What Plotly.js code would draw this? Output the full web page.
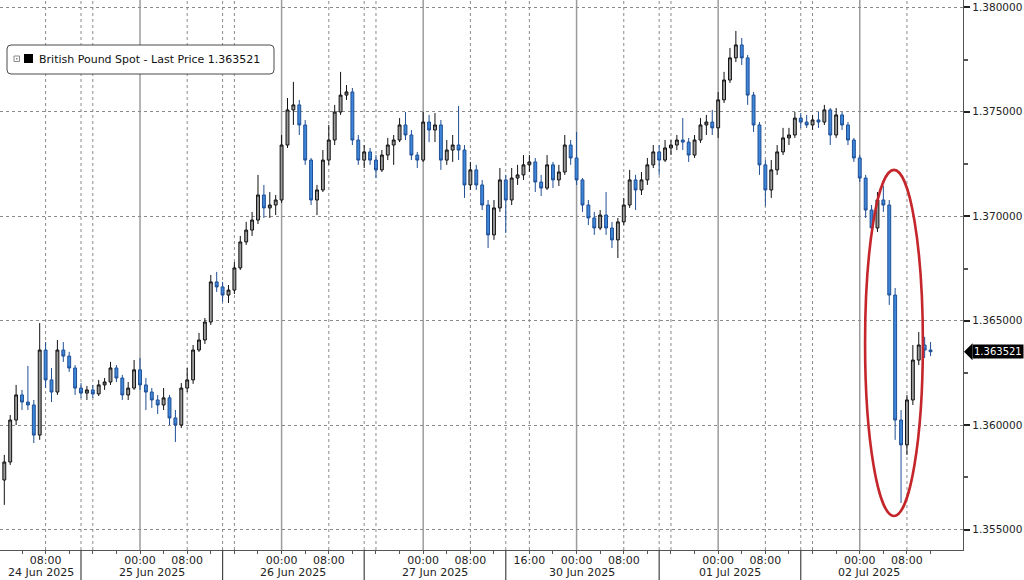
<!DOCTYPE html>
<html><head><meta charset="utf-8">
<script src="https://cdn.plot.ly/plotly-3.0.1.min.js"></script>
<style>html,body{margin:0;padding:0;background:#fff}#chart{width:1024px;height:580px}</style>
</head><body><div id="chart"></div>
<script>
const seriesName = "British Pound Spot - Last Price";
const lastPrice = 1.363521;
const firstHour = -23; // hourly candles; hour 0 = 25 Jun 00:00, weekend compressed

const openPx = [
1.35738,1.35824,1.36025,1.36145,1.36111,1.36097,1.35953,1.36360,1.36217,1.36159,
1.36360,1.36331,1.36274,1.36178,1.36154,1.36169,1.36150,1.36193,1.36207,1.36274,
1.36226,1.36145,1.36178,1.36265,1.36193,1.36159,1.36121,1.36097,1.36131,1.36035,
1.36001,1.36178,1.36217,1.36360,1.36408,1.36494,1.36686,1.36662,1.36623,1.36647,
1.36753,1.36877,1.36934,1.36982,1.37102,1.37040,1.37054,1.37078,1.37341,1.37509,
1.37533,1.37437,1.37269,1.37078,1.37126,1.37269,1.37365,1.37499,1.37580,1.37595,
1.37365,1.37269,1.37308,1.37269,1.37222,1.37293,1.37341,1.37365,1.37437,1.37389,
1.37293,1.37269,1.37451,1.37413,1.37437,1.37269,1.37317,1.37341,1.37317,1.37150,
1.37222,1.37150,1.37054,1.36911,1.37040,1.37174,1.37078,1.37183,1.37198,1.37246,
1.37260,1.37164,1.37135,1.37246,1.37174,1.37212,1.37341,1.37279,1.37174,1.37054,
1.36992,1.36944,1.37006,1.36944,1.36887,1.36973,1.37054,1.37174,1.37126,1.37174,
1.37246,1.37308,1.37269,1.37327,1.37341,1.37365,1.37355,1.37293,1.37365,1.37437,
1.37451,1.37423,1.37557,1.37652,1.37758,1.37820,1.37758,1.37580,1.37437,1.37246,
1.37126,1.37222,1.37308,1.37375,1.37389,1.37470,1.37451,1.37437,1.37461,1.37451,
1.37509,1.37389,1.37485,1.37437,1.37365,1.37279,1.37183,1.37030,1.36944,1.37078,
1.37054,1.36623,1.36025,1.35906,1.36121,1.36312,1.36384,1.36360];

const highPx = [
1.35858,1.36049,1.36193,1.36169,1.36284,1.36121,1.36489,1.36398,1.36274,1.36408,
1.36398,1.36351,1.36288,1.36202,1.36188,1.36193,1.36217,1.36226,1.36303,1.36288,
1.36241,1.36207,1.36312,1.36322,1.36226,1.36178,1.36145,1.36178,1.36145,1.36073,
1.36202,1.36274,1.36384,1.36442,1.36513,1.36719,1.36734,1.36686,1.36671,1.36781,
1.36906,1.36973,1.37021,1.37198,1.37150,1.37116,1.37102,1.37389,1.37566,1.37643,
1.37557,1.37461,1.37279,1.37150,1.37317,1.37437,1.37533,1.37691,1.37628,1.37614,
1.37389,1.37341,1.37327,1.37293,1.37317,1.37375,1.37389,1.37470,1.37499,1.37413,
1.37308,1.37499,1.37485,1.37494,1.37461,1.37365,1.37389,1.37528,1.37341,1.37260,
1.37246,1.37174,1.37078,1.37078,1.37231,1.37198,1.37231,1.37246,1.37293,1.37293,
1.37279,1.37198,1.37293,1.37260,1.37246,1.37389,1.37365,1.37403,1.37183,1.37078,
1.37021,1.37030,1.37116,1.36973,1.36992,1.37088,1.37222,1.37198,1.37212,1.37279,
1.37341,1.37341,1.37365,1.37365,1.37389,1.37470,1.37375,1.37389,1.37470,1.37485,
1.37509,1.37595,1.37691,1.37805,1.37887,1.37853,1.37772,1.37595,1.37451,1.37269,
1.37269,1.37341,1.37423,1.37423,1.37499,1.37494,1.37485,1.37485,1.37499,1.37533,
1.37518,1.37518,1.37499,1.37451,1.37375,1.37293,1.37198,1.37054,1.37116,1.37145,
1.37078,1.36657,1.36073,1.36145,1.36384,1.36446,1.36423,1.36398];

const lowPx = [
1.35619,1.35810,1.36001,1.36073,1.36073,1.35915,1.35930,1.36178,1.36111,1.36145,
1.36303,1.36255,1.36145,1.36131,1.36121,1.36131,1.36140,1.36169,1.36193,1.36207,
1.36121,1.36121,1.36169,1.36169,1.36073,1.36083,1.36054,1.36073,1.36001,1.35920,
1.35987,1.36159,1.36198,1.36351,1.36389,1.36480,1.36638,1.36590,1.36585,1.36628,
1.36743,1.36863,1.36906,1.36963,1.36992,1.36992,1.37006,1.37064,1.37327,1.37437,
1.37389,1.37246,1.37054,1.37006,1.37116,1.37246,1.37341,1.37485,1.37557,1.37341,
1.37246,1.37231,1.37246,1.37183,1.37212,1.37269,1.37246,1.37355,1.37365,1.37269,
1.37231,1.37260,1.37355,1.37355,1.37222,1.37246,1.37260,1.37269,1.37088,1.37126,
1.37126,1.37030,1.36848,1.36887,1.37021,1.36920,1.37054,1.37150,1.37174,1.37212,
1.37116,1.37097,1.37126,1.37135,1.37145,1.37198,1.37246,1.37150,1.37021,1.36958,
1.36911,1.36934,1.36911,1.36848,1.36800,1.36958,1.37040,1.37030,1.37102,1.37150,
1.37231,1.37198,1.37260,1.37293,1.37317,1.37317,1.37260,1.37279,1.37351,1.37389,
1.37389,1.37375,1.37542,1.37638,1.37738,1.37724,1.37533,1.37403,1.37198,1.37049,
1.37088,1.37198,1.37293,1.37341,1.37375,1.37423,1.37423,1.37413,1.37423,1.37437,
1.37341,1.37375,1.37413,1.37341,1.37260,1.37164,1.36992,1.36896,1.36925,1.37021,
1.36576,1.35930,1.35628,1.35858,1.36097,1.36288,1.36322,1.36331];

const closePx = [
1.35824,1.36025,1.36145,1.36111,1.36097,1.35953,1.36360,1.36217,1.36159,1.36360,
1.36331,1.36274,1.36178,1.36154,1.36169,1.36150,1.36193,1.36207,1.36274,1.36226,
1.36145,1.36178,1.36265,1.36193,1.36159,1.36121,1.36097,1.36131,1.36035,1.36001,
1.36178,1.36217,1.36360,1.36408,1.36494,1.36686,1.36662,1.36623,1.36647,1.36753,
1.36877,1.36934,1.36982,1.37102,1.37040,1.37054,1.37078,1.37341,1.37509,1.37533,
1.37437,1.37269,1.37078,1.37126,1.37269,1.37365,1.37499,1.37580,1.37595,1.37365,
1.37269,1.37308,1.37269,1.37222,1.37293,1.37341,1.37365,1.37437,1.37389,1.37293,
1.37269,1.37451,1.37413,1.37437,1.37269,1.37317,1.37341,1.37317,1.37150,1.37222,
1.37150,1.37054,1.36911,1.37040,1.37174,1.37078,1.37183,1.37198,1.37246,1.37260,
1.37164,1.37135,1.37246,1.37174,1.37212,1.37341,1.37279,1.37174,1.37054,1.36992,
1.36944,1.37006,1.36944,1.36887,1.36973,1.37054,1.37174,1.37126,1.37174,1.37246,
1.37308,1.37269,1.37327,1.37341,1.37365,1.37355,1.37293,1.37365,1.37437,1.37451,
1.37423,1.37557,1.37652,1.37758,1.37820,1.37758,1.37580,1.37437,1.37246,1.37126,
1.37222,1.37308,1.37375,1.37389,1.37470,1.37451,1.37437,1.37461,1.37451,1.37509,
1.37389,1.37485,1.37437,1.37365,1.37279,1.37183,1.37030,1.36944,1.37078,1.37054,
1.36623,1.36025,1.35906,1.36121,1.36312,1.36384,1.36360,1.363521];

// x axis tick labels (hour positions on the compressed time scale)
const timeTickVals = [-16, 0, 8, 24, 32, 48, 56, 66, 74, 82, 98, 106, 122, 130];
const timeTickText = ["08:00","00:00","08:00","00:00","08:00","00:00","08:00","16:00","00:00","08:00","00:00","08:00","00:00","08:00"];
const midnightHours = [0, 24, 48, 74, 98, 122];
const dottedHours = [-16, -8, 8, 16, 32, 40, 56, 66, 82, 90, 106, 114, 130];
const sessionBreaks = [-10, 14, 38, 62, 88, 112];
const dayLabels = ["24 Jun 2025","25 Jun 2025","26 Jun 2025","27 Jun 2025","30 Jun 2025","01 Jul 2025","02 Jul 2025"];
const priceTicks = [1.355, 1.360, 1.365, 1.370, 1.375, 1.380];

// ---------- layout constants ----------
const W = 1024, H = 580;
const M = {l: 0, r: 61, t: 0, b: 30};
const PW = W - M.l - M.r, PH = H - M.t - M.b;
const xRange = [-23.73, 139.5];
const yRange = [1.35403, 1.38035];
const FONT = "DejaVu Sans";

const hours = openPx.map((_, i) => firstHour + i);
const lastHour = hours[hours.length - 1];

const px2x = p => p / PW;          // paper x from pixel in plot
const py2y = p => 1 - p / PH;      // paper y from pixel in plot
const price2paper = v => (v - yRange[0]) / (yRange[1] - yRange[0]);

const trace = {
  type: 'candlestick',
  x: hours, open: openPx, high: highPx, low: lowPx, close: closePx,
  increasing: {line: {color: '#111111', width: 1}, fillcolor: '#9a9a9a'},
  decreasing: {line: {color: '#1f4f95', width: 1}, fillcolor: '#3d86d9'},
  whiskerwidth: 0,
  hoverinfo: 'skip',
  showlegend: false
};

const shapes = [];
midnightHours.forEach(h => shapes.push({type: 'line', xref: 'x', yref: 'paper', x0: h, x1: h, y0: 0, y1: 1,
  line: {color: '#9c9c9c', width: 1.5}, layer: 'below'}));
dottedHours.concat(sessionBreaks).forEach(h => shapes.push({type: 'line', xref: 'x', yref: 'paper', x0: h, x1: h, y0: 0, y1: 1,
  line: {color: '#8a8a8a', width: 1, dash: 'dot'}, layer: 'below'}));
// separators between date labels under the axis
sessionBreaks.forEach(h => shapes.push({type: 'line', xref: 'x', yref: 'paper', x0: h, x1: h, y0: 0, y1: -M.b / PH,
  line: {color: '#444', width: 1.2}}));

// red ellipse highlighting the drop
shapes.push({type: 'circle', xref: 'x', yref: 'y', x0: 122.9, x1: 132.7, y0: 1.35566, y1: 1.37222,
  line: {color: '#c4262b', width: 2.6}});

// legend box (rounded)
(function(){
  const x0 = 7, x1 = 274, y0 = 45, y1 = 74, r = 4;
  const X = px2x, Y = py2y;
  const p = `M ${X(x0+r)} ${Y(y0)} L ${X(x1-r)} ${Y(y0)} Q ${X(x1)} ${Y(y0)} ${X(x1)} ${Y(y0+r)} ` +
            `L ${X(x1)} ${Y(y1-r)} Q ${X(x1)} ${Y(y1)} ${X(x1-r)} ${Y(y1)} L ${X(x0+r)} ${Y(y1)} ` +
            `Q ${X(x0)} ${Y(y1)} ${X(x0)} ${Y(y1-r)} L ${X(x0)} ${Y(y0+r)} Q ${X(x0)} ${Y(y0)} ${X(x0+r)} ${Y(y0)} Z`;
  shapes.push({type: 'path', xref: 'paper', yref: 'paper', path: p, fillcolor: '#ffffff', line: {color: '#4a4a4a', width: 1}});
  shapes.push({type: 'rect', xref: 'paper', yref: 'paper', x0: X(14), x1: X(19.5), y0: Y(56), y1: Y(61.5), fillcolor: '#ffffff', line: {color: '#888', width: 1}});
  shapes.push({type: 'rect', xref: 'paper', yref: 'paper', x0: X(16), x1: X(17.5), y0: Y(58), y1: Y(59.5), fillcolor: '#888', line: {width: 0}});
  shapes.push({type: 'rect', xref: 'paper', yref: 'paper', x0: X(24), x1: X(33), y0: Y(54), y1: Y(63), fillcolor: '#000', line: {width: 0}});
})();

// last-price tag pointer
(function(){
  const yc = price2paper(lastPrice);
  const dy = 8.5 / PH;
  const xa = px2x(964), xb = px2x(972.5);
  shapes.push({type: 'path', xref: 'paper', yref: 'paper',
    path: `M ${xa} ${yc} L ${xb} ${yc + dy} L ${xb} ${yc - dy} Z`, fillcolor: '#000', line: {width: 0}});
})();

const annotations = [];
const edges = [xRange[0]].concat(sessionBreaks, [lastHour + 1]);
dayLabels.forEach((t, i) => annotations.push({
  xref: 'x', yref: 'paper', x: (edges[i] + edges[i+1]) / 2, y: -(572 - PH) / PH,
  text: t, showarrow: false, xanchor: 'center', yanchor: 'middle',
  font: {family: FONT, size: 11, color: '#222'}
}));
annotations.push({xref: 'paper', yref: 'paper', x: px2x(37), y: py2y(59.5), xanchor: 'left', yanchor: 'middle',
  text: seriesName + ' ' + lastPrice.toFixed(6), showarrow: false,
  font: {family: FONT, size: 11, color: '#111'}});
annotations.push({xref: 'paper', yref: 'paper', x: px2x(972), y: price2paper(lastPrice), xanchor: 'left', yanchor: 'middle',
  text: lastPrice.toFixed(6), showarrow: false, bgcolor: '#000', borderpad: 1,
  font: {family: FONT, size: 10, color: '#fff'}});

const minorX = hours.filter(h => (h <= 62 ? ((h % 4) + 4) % 4 === 0 : ((h - 74) % 4 + 4) % 4 === 0));

const layout = {
  width: W, height: H, margin: M,
  paper_bgcolor: '#fff', plot_bgcolor: '#fff',
  showlegend: false, dragmode: false,
  font: {family: FONT, size: 11, color: '#222'},
  xaxis: {
    range: xRange, rangeslider: {visible: false}, type: 'linear',
    tickmode: 'array', tickvals: timeTickVals, ticktext: timeTickText,
    ticks: '', showgrid: false, zeroline: false,
    showline: true, linecolor: '#555', linewidth: 1.2,
    tickfont: {family: FONT, size: 11, color: '#222'},
    minor: {tickmode: 'array', tickvals: minorX, ticks: 'outside', ticklen: 3, tickcolor: '#555', showgrid: false}
  },
  yaxis: {
    side: 'right', range: yRange, tickmode: 'array', tickvals: priceTicks,
    tickformat: '.6f', ticks: 'outside', ticklen: 6, tickwidth: 2, tickcolor: '#222',
    showgrid: true, gridcolor: '#8a8a8a', griddash: 'dot', gridwidth: 1,
    zeroline: false, showline: true, linecolor: '#555', linewidth: 1.2,
    tickfont: {family: FONT, size: 10.5, color: '#222'},
    minor: {dtick: 0.0025, tick0: 1.3525, ticks: 'outside', ticklen: 4, tickcolor: '#555', showgrid: false}
  },
  shapes: shapes,
  annotations: annotations
};

Plotly.newPlot('chart', [trace], layout, {staticPlot: true, displayModeBar: false});
</script>
</body></html>
